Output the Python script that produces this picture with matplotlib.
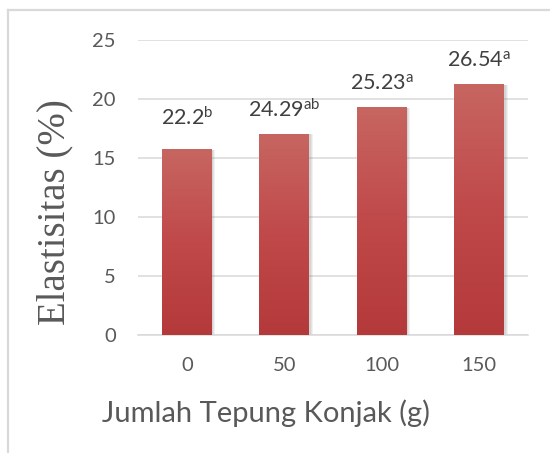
import numpy as np
import matplotlib
matplotlib.use('Agg')
import matplotlib.pyplot as plt
from matplotlib.colors import LinearSegmentedColormap

# data
konjak = ['0', '50', '100', '150']
elastisitas = [15.7, 17.0, 19.25, 21.2]
label_nilai = ['22.2', '24.29', '25.23', '26.54']
label_notasi = ['b', 'ab', 'a', 'a']

plt.rcParams['font.family'] = ['Lato', 'DejaVu Sans']
plt.rcParams['mathtext.fontset'] = 'custom'
plt.rcParams['mathtext.rm'] = 'Lato'
plt.rcParams['mathtext.default'] = 'regular'

fig = plt.figure(figsize=(5.5, 4.53), dpi=100)
ax = fig.add_axes([138 / 550, 1 - 335 / 453, 390 / 550, 295 / 453])

x = np.arange(len(konjak))
width = 0.51

# soft shadow behind the bars
for dx, a in [(0.035, 0.10), (0.025, 0.12), (0.015, 0.15)]:
    ax.bar(x + dx, elastisitas, width=width, color='#7f7f7f', alpha=a, zorder=2)

bars = ax.bar(x, elastisitas, width=width, color='#C0504D', zorder=3)

# vertical gradient fill on each bar
cmap = LinearSegmentedColormap.from_list('merah', ['#B4393A', '#C0494A', '#C76661'])
grad = np.linspace(0, 1, 256).reshape(-1, 1)
for b in bars:
    x0, w, h = b.get_x(), b.get_width(), b.get_height()
    ax.imshow(grad, extent=[x0, x0 + w, 0, h], origin='lower', cmap=cmap,
              aspect='auto', zorder=4, interpolation='bicubic')

ax.set_xlim(-0.5, len(konjak) - 0.5)
ax.set_ylim(0, 25)
ax.set_yticks(range(0, 26, 5))
ax.set_xticks(x)
ax.set_xticklabels(konjak)

ax.grid(axis='y', color='#D9D9D9', linewidth=1.1, zorder=0)
ax.set_axisbelow(True)
for s in ['top', 'right', 'left']:
    ax.spines[s].set_visible(False)
ax.spines['bottom'].set_color('#D9D9D9')
ax.spines['bottom'].set_linewidth(1.1)
ax.tick_params(axis='both', length=0, labelsize=14.5, colors='#595959')
ax.tick_params(axis='y', pad=16)
ax.tick_params(axis='x', pad=16)

# value labels with letter notation
offsets = [15, 10, 10, 10]
for xi, h, v, n, off in zip(x, elastisitas, label_nilai, label_notasi, offsets):
    ax.annotate(v + '$^{' + n + '}$', (xi, h), xytext=(0, off), textcoords='offset points',
                ha='center', va='bottom', fontsize=15.5, color='#404040', zorder=6)

fig.text(266 / 550, 1 - 422 / 453, 'Jumlah Tepung Konjak (g)', ha='center',
         va='baseline', fontsize=21, color='#595959')
fig.text(55 / 550, 1 - 212 / 453, 'Elastisitas (%)', rotation=90, ha='center',
         va='center', fontsize=28, color='#595959', family='Liberation Serif')

# outer chart border (left and top)
fig.add_artist(plt.Line2D([7.5 / 550, 7.5 / 550], [0, 1 - 10 / 453], color='#D9D9D9',
                          linewidth=1.6, transform=fig.transFigure))
fig.add_artist(plt.Line2D([7.5 / 550, 1], [1 - 10 / 453, 1 - 10 / 453], color='#D9D9D9',
                          linewidth=1.6, transform=fig.transFigure))

fig.savefig('out.png', dpi=100)
